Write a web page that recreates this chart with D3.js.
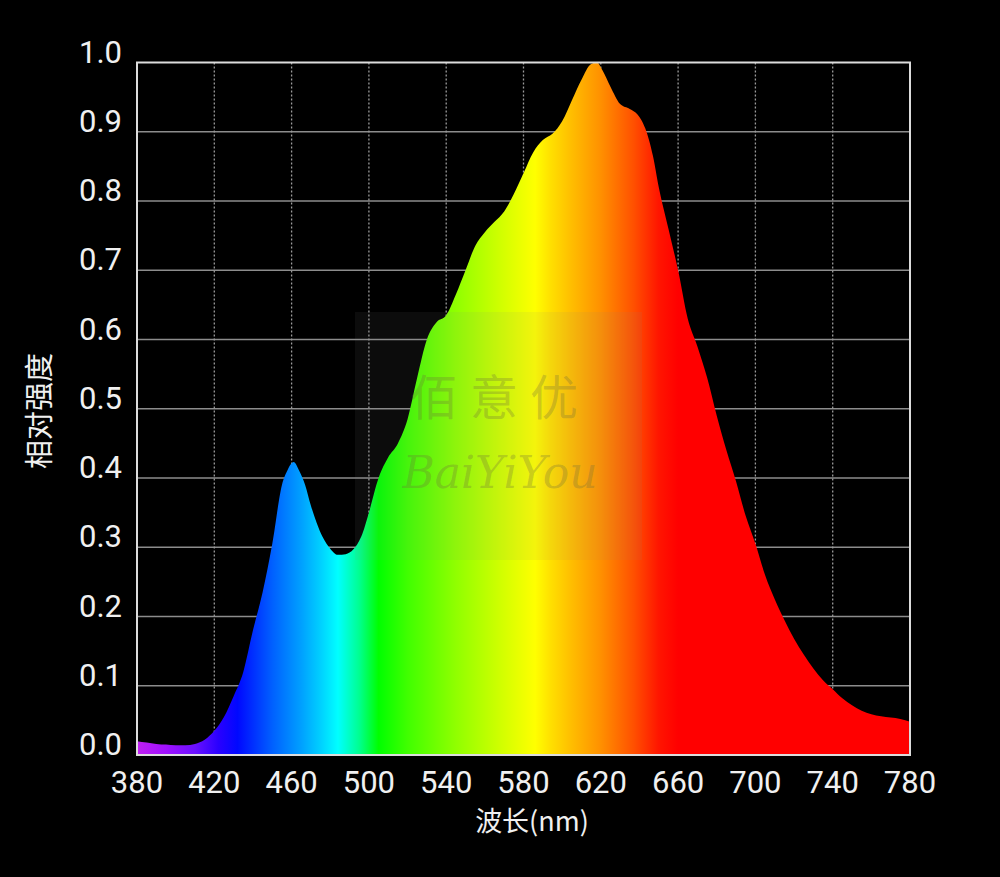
<!DOCTYPE html>
<html>
<head>
<meta charset="utf-8">
<script src="https://cdn.jsdelivr.net/npm/d3@7"></script>
<style>
html,body{margin:0;padding:0;background:#000;}
svg{display:block;}
</style>
</head>
<body>
<svg id="chart" width="1000" height="877"></svg>
<script>
// ---- data ----
const wavelengths = [380,385,390,395,400,405,410,415,420,425,430,435,440,445,450,455,458,461,464,467,470,473,476,480,484,488,492,496,500,505,510,515,520,525,530,535,540,545,550,555,560,565,570,575,580,585,590,595,600,605,610,615,618,621,625,630,635,639,643,647,650,655,660,665,670,675,680,685,690,695,700,705,710,715,720,725,730,735,740,745,750,755,760,765,770,775,780];
const intensity   = [0.02,0.018,0.016,0.015,0.014,0.014,0.016,0.022,0.035,0.055,0.085,0.12,0.18,0.235,0.305,0.39,0.412,0.423,0.41,0.39,0.36,0.335,0.315,0.298,0.289,0.29,0.297,0.315,0.35,0.40,0.43,0.45,0.485,0.545,0.60,0.625,0.635,0.665,0.70,0.735,0.755,0.77,0.785,0.81,0.84,0.87,0.888,0.897,0.915,0.945,0.975,0.998,1.0,0.988,0.965,0.94,0.933,0.925,0.905,0.865,0.82,0.76,0.70,0.63,0.59,0.545,0.49,0.44,0.395,0.345,0.305,0.26,0.225,0.195,0.168,0.145,0.125,0.108,0.095,0.082,0.072,0.064,0.059,0.056,0.054,0.052,0.048];
const xTicks = [380,420,460,500,540,580,620,660,700,740,780];
const yTicks = [0.0,0.1,0.2,0.3,0.4,0.5,0.6,0.7,0.8,0.9,1.0];
const spectrumWl     = [380,395,410,422,432,450,465,475,484,495,505,520,545,568,586,594,604,620,637,650,660,780];
const spectrumColors = ["#c020f0","#a010ff","#6a10ff","#2a00ff","#0008ff","#0060ff","#00a0ff","#00d0ff","#00ffff","#00ff90","#00ff00","#40ff00","#90ff00","#d0ff00","#ffff00","#ffe000","#ffc000","#ff9000","#ff5000","#ff1500","#ff0000","#ff0000"];
const xTitle = "波长(nm)";
const yTitle = "相对强度";

// ---- layout ----
const svg = d3.select("#chart");
svg.append("rect").attr("width",1000).attr("height",877).attr("fill","#000");
const x = d3.scaleLinear().domain([380,780]).range([137,910]);
const y = d3.scaleLinear().domain([0,1]).range([755,62.5]);

// gradient
const defs = svg.append("defs");
const grad = defs.append("linearGradient").attr("id","spec")
  .attr("gradientUnits","userSpaceOnUse")
  .attr("x1",x(380)).attr("x2",x(780)).attr("y1",0).attr("y2",0);
spectrumWl.forEach((w,i)=>{
  grad.append("stop").attr("offset",(w-380)/400).attr("stop-color",spectrumColors[i]);
});

// grid
const grid = svg.append("g");
grid.selectAll("line.h").data(yTicks.slice(1,-1)).join("line")
  .attr("x1",x(380)).attr("x2",x(780))
  .attr("y1",d=>y(d)).attr("y2",d=>y(d))
  .attr("stroke","#8c8c8c").attr("stroke-width",1.6);
grid.selectAll("line.v").data(xTicks.slice(1,-1)).join("line")
  .attr("x1",d=>x(d)).attr("x2",d=>x(d))
  .attr("y1",y(1)).attr("y2",y(0))
  .attr("stroke","#9a9a9a").attr("stroke-width",1.3).attr("stroke-dasharray","2,2");

// area
const pts = wavelengths.map((w,i)=>[w,intensity[i]]);
const area = d3.area().x(d=>x(d[0])).y0(y(0)).y1(d=>y(d[1])).curve(d3.curveMonotoneX);
svg.append("path").datum(pts).attr("d",area).attr("fill","url(#spec)");

// frame
svg.append("rect").attr("x",x(380)).attr("y",y(1))
  .attr("width",x(780)-x(380)).attr("height",y(0)-y(1))
  .attr("fill","none").attr("stroke","#dcdcdc").attr("stroke-width",2);

// watermark
svg.append("rect").attr("x",355).attr("y",312).attr("width",287).attr("height",248)
  .attr("fill","rgba(128,128,128,0.09)");
svg.append("text").attr("x",500).attr("y",415).attr("text-anchor","middle")
  .attr("font-family","'Noto Sans CJK SC'").attr("font-size",48)
  .attr("letter-spacing",12)
  .attr("fill","rgba(110,110,60,0.3)").text("佰意优");
svg.append("text").attr("x",500).attr("y",488).attr("text-anchor","middle")
  .attr("font-family","'DejaVu Serif'").attr("font-style","italic").attr("font-size",44)
  .attr("fill","rgba(110,110,60,0.3)").text("BaiYiYou");

// axes labels
const axisG = svg.append("g").attr("font-family","Roboto, 'Noto Sans', sans-serif").attr("fill","#f0f0f0");
axisG.selectAll("text.y").data(yTicks).join("text")
  .attr("x",122).attr("y",d=>y(d)).attr("text-anchor","end")
  .attr("font-size",31).text(d=>d3.format(".1f")(d));
axisG.selectAll("text.x").data(xTicks).join("text")
  .attr("x",d=>x(d)).attr("y",793).attr("text-anchor","middle")
  .attr("font-size",31).text(d=>d);

svg.append("text").attr("x",532).attr("y",831).attr("text-anchor","middle")
  .attr("font-family","'Noto Sans CJK SC', Roboto").attr("font-size",27)
  .attr("fill","#f0f0f0").text(xTitle);
svg.append("text").attr("transform","translate(37,411) rotate(-90)")
  .attr("text-anchor","middle").attr("dominant-baseline","central")
  .attr("font-family","'Noto Sans CJK SC'").attr("font-size",29)
  .attr("fill","#f0f0f0").text(yTitle);
</script>
</body>
</html>
